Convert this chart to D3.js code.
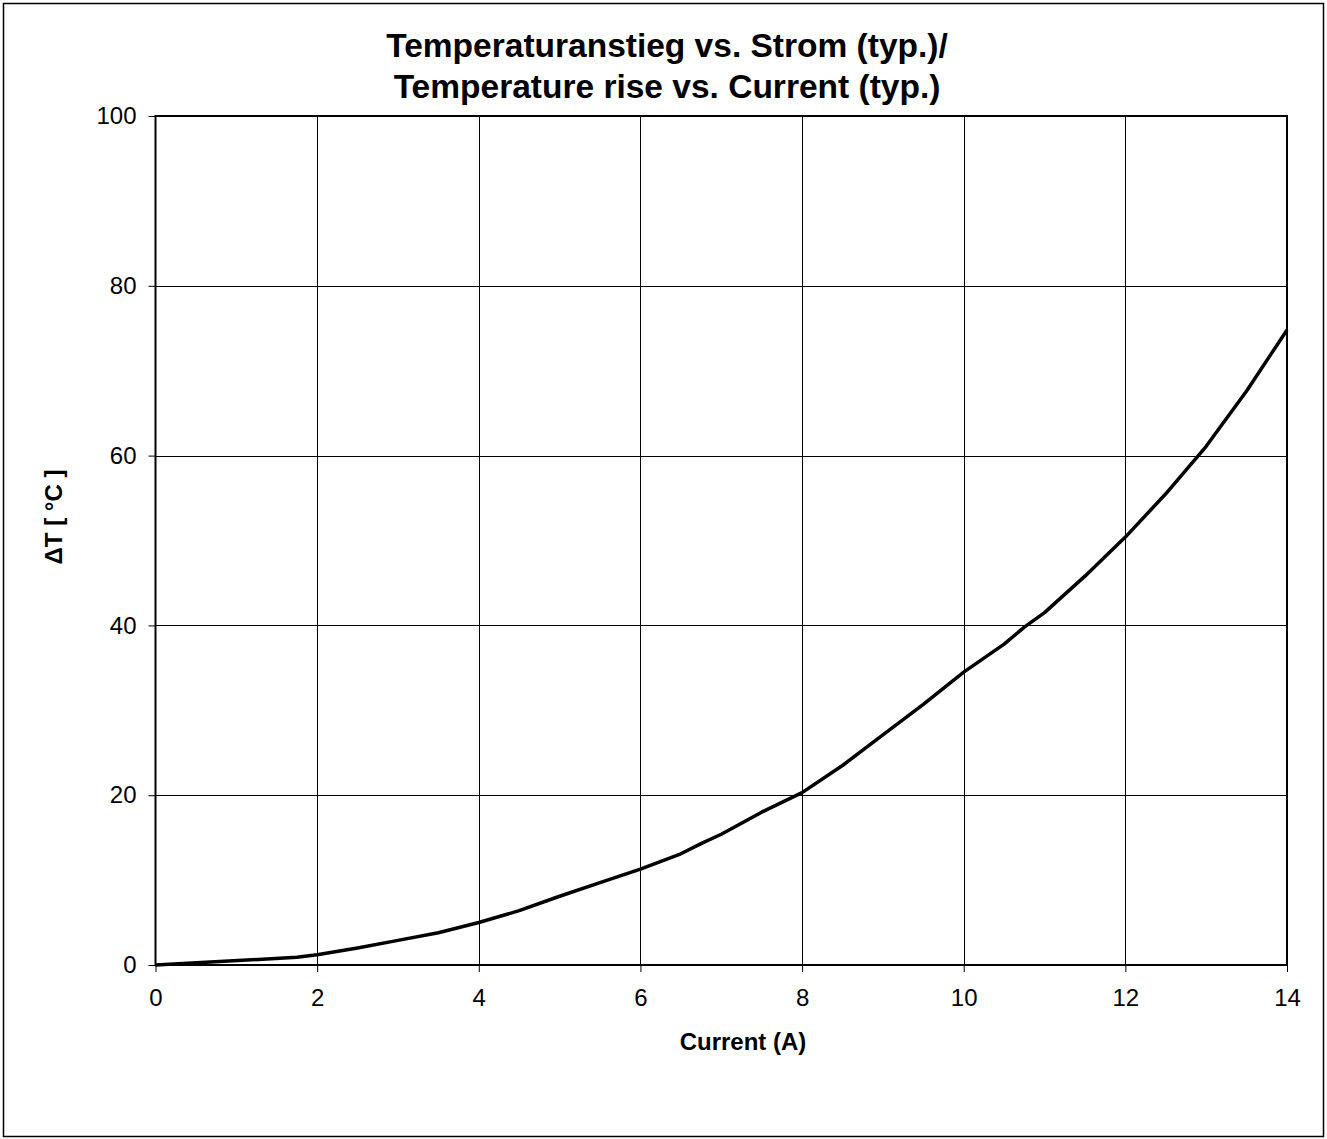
<!DOCTYPE html>
<html><head><meta charset="utf-8">
<script src="https://cdn.jsdelivr.net/npm/d3@7"></script>
<style>body{margin:0;background:#fff;}svg{display:block;font-family:"Liberation Sans",Arial,sans-serif;}</style>
</head><body>
<script>
const current = [0, 1.75, 2, 2.5, 3, 3.5, 4, 4.5, 5, 5.5, 6, 6.5, 6.75, 7, 7.5, 8, 8.5, 9, 9.5, 10, 10.5, 10.75, 11, 11.5, 12, 12.5, 13, 13.5, 14];
const deltaT  = [0, 0.9, 1.2, 2.0, 2.9, 3.8, 5.0, 6.4, 8.1, 9.7, 11.3, 13.1, 14.3, 15.4, 18.0, 20.3, 23.5, 27.1, 30.7, 34.5, 37.8, 39.8, 41.5, 45.8, 50.4, 55.5, 61.1, 67.6, 74.8];
const xTicks = [0, 2, 4, 6, 8, 10, 12, 14];
const yTicks = [0, 20, 40, 60, 80, 100];
const titleLines = ["Temperaturanstieg vs. Strom (typ.)/", "Temperature rise vs. Current (typ.)"];
const xLabel = "Current (A)";
const yLabel = "\u0394T [ \u00B0C ]";

const W = 1327, H = 1139;
const m = {left: 155.5, top: 116, right: 1287, bottom: 965};
const svg = d3.select("body").append("svg").attr("width", W).attr("height", H);

svg.append("rect").attr("x", 3.5).attr("y", 3.5).attr("width", W - 7).attr("height", H - 6)
  .attr("fill", "#fff").attr("stroke", "#000").attr("stroke-width", 1.5);

const x = d3.scaleLinear().domain([0, 14]).range([m.left, m.right]);
const y = d3.scaleLinear().domain([0, 100]).range([m.bottom, m.top]);

// gridlines
svg.append("g").selectAll("line").data(xTicks.slice(1, -1)).join("line")
  .attr("x1", d => Math.round(x(d)) + 0.5).attr("x2", d => Math.round(x(d)) + 0.5)
  .attr("y1", m.top).attr("y2", m.bottom).attr("stroke", "#000").attr("stroke-width", 1);
svg.append("g").selectAll("line").data(yTicks.slice(1, -1)).join("line")
  .attr("y1", d => Math.round(y(d)) + 0.5).attr("y2", d => Math.round(y(d)) + 0.5)
  .attr("x1", m.left).attr("x2", m.right).attr("stroke", "#000").attr("stroke-width", 1);

// plot frame
svg.append("rect").attr("x", m.left).attr("y", m.top).attr("width", m.right - m.left).attr("height", m.bottom - m.top)
  .attr("fill", "none").attr("stroke", "#000").attr("stroke-width", 2);

// axes
const xAxis = svg.append("g").attr("transform", `translate(0,${m.bottom})`)
  .call(d3.axisBottom(x).tickValues(xTicks).tickSize(7).tickPadding(17).tickFormat(d3.format("d")));
const yAxis = svg.append("g").attr("transform", `translate(${m.left},0)`)
  .call(d3.axisLeft(y).tickValues(yTicks).tickSize(7).tickPadding(12).tickFormat(d3.format("d")));
[xAxis, yAxis].forEach(a => {
  a.select(".domain").remove();
  a.selectAll(".tick line").attr("stroke", "#000").attr("stroke-width", 1);
  a.selectAll("text").attr("font-size", 24).attr("fill", "#000").attr("font-family", "Liberation Sans, Arial, sans-serif");
});

// curve
const pts = current.map((c, i) => [c, deltaT[i]]);
svg.append("path").datum(pts)
  .attr("d", d3.line().x(d => x(d[0])).y(d => y(d[1])))
  .attr("fill", "none").attr("stroke", "#000").attr("stroke-width", 3.5).attr("stroke-linejoin", "round");

// title
svg.append("text").attr("text-anchor", "middle").attr("font-weight", "bold").attr("font-size", 33.5)
  .selectAll("tspan").data(titleLines).join("tspan")
  .attr("x", 667).attr("y", (d, i) => 57 + i * 41).text(d => d);

svg.append("text").attr("x", 743).attr("y", 1050).attr("text-anchor", "middle")
  .attr("font-weight", "bold").attr("font-size", 24).text(xLabel);
svg.append("text").attr("transform", `translate(62,517) rotate(-90)`).attr("text-anchor", "middle")
  .attr("font-weight", "bold").attr("font-size", 24).text(yLabel);
</script>
</body></html>
